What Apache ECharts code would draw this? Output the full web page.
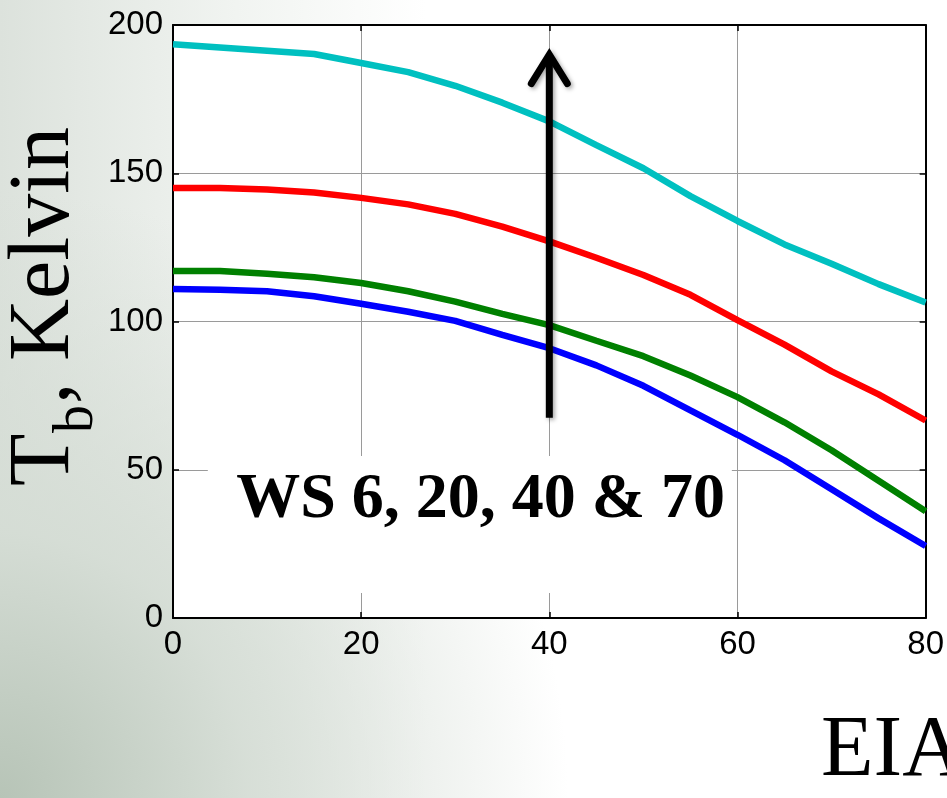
<!DOCTYPE html>
<html><head><meta charset="utf-8">
<script src="https://cdn.jsdelivr.net/npm/echarts@6/dist/echarts.min.js"></script>
<style>
html,body{margin:0;padding:0;width:947px;height:798px;overflow:hidden;}
body{background:
  radial-gradient(ellipse 75% 95% at 0% 100%, rgba(183,196,183,1) 0%, rgba(212,220,212,0.9) 35%, rgba(255,255,255,0) 80%),
  linear-gradient(to right, #dce2dc 0%, #f1f4f1 25%, #ffffff 45%);}
#c{width:947px;height:798px;}
</style></head><body><div id="c"></div>
<script>
const xValues = [0,5,10,15,20,25,30,35,40,45,50,55,60,65,70,75,80];
const ws6  = [111,110.7,110.2,108.5,106,103.3,100.2,95.5,91,85.2,78.3,70,61.8,53.2,43.4,33.6,24.3];
const ws20 = [117,117,116.1,114.9,113,110.2,106.7,102.6,98.8,93.5,88.3,81.8,74.5,66,56.6,46.3,36];
const ws40 = [145,145,144.5,143.5,141.7,139.5,136.3,132,127,121.5,115.7,109,100.5,92.2,83.2,75.4,66.6];
const ws70 = [193.5,192.4,191.3,190.2,187.2,184.1,179.5,173.8,167.5,159.5,151.7,142.3,133.9,126,119.5,112.6,106.4];
const seriesNames = ['WS 6','WS 20','WS 40','WS 70'];
const seriesColors = ['#0000ff','#008000','#ff0000','#00c0c0'];
const annotationText = 'WS 6, 20, 40 & 70';
const arrowFrom = [40, 67.5];
const arrowTo = [40, 190];
const boxCorners = [[3.7, 54.6],[59.4, 8.4]];
const textAnchor = [32.7, 32.4];

const chart = echarts.init(document.getElementById('c'), null, {renderer:'canvas'});
const pair = arr => xValues.map((x,i)=>[x, arr[i]]);
const allSeries = [ws6, ws20, ws40, ws70];

const axisLabelStyle = {fontFamily:'Liberation Sans', fontSize:33, color:'#000'};
chart.setOption({
  backgroundColor:'transparent',
  animation:false,
  grid:{left:173, right:20, top:25, bottom:180, show:true, backgroundColor:'#fff', borderWidth:0},
  xAxis:[
    {type:'value', min:0, max:80, interval:20, position:'bottom',
     axisLine:{show:true, onZero:false, lineStyle:{color:'#000', width:2}},
     axisTick:{show:true, inside:true, length:6, lineStyle:{color:'#000', width:1.5}},
     axisLabel:Object.assign({margin:10}, axisLabelStyle),
     splitLine:{show:true, lineStyle:{color:'#9a9a9a', width:1}}},
    {type:'value', min:0, max:80, interval:20, position:'top',
     axisLine:{show:true, onZero:false, lineStyle:{color:'#000', width:2}},
     axisTick:{show:true, inside:true, length:6, lineStyle:{color:'#000', width:1.5}},
     axisLabel:{show:false}, splitLine:{show:false}}
  ],
  yAxis:[
    {type:'value', min:0, max:200, interval:50, position:'left',
     axisLine:{show:true, onZero:false, lineStyle:{color:'#000', width:2}},
     axisTick:{show:true, inside:true, length:6, lineStyle:{color:'#000', width:1.5}},
     axisLabel:Object.assign({margin:10}, axisLabelStyle),
     splitLine:{show:true, lineStyle:{color:'#9a9a9a', width:1}}},
    {type:'value', min:0, max:200, interval:50, position:'right',
     axisLine:{show:true, onZero:false, lineStyle:{color:'#000', width:2}},
     axisTick:{show:true, inside:true, length:6, lineStyle:{color:'#000', width:1.5}},
     axisLabel:{show:false}, splitLine:{show:false}}
  ],
  series: allSeries.map((arr,i)=>({
    name:seriesNames[i], type:'line', data:pair(arr), showSymbol:false, symbol:'none',
    lineStyle:{color:seriesColors[i], width:6.5}, z:3
  }))
});

// serif baseline offset when using verticalAlign 'middle'
const SERIF_MID = 0.3375;
function drawOverlay(){
  const p = v => chart.convertToPixel({gridIndex:0}, v);
  const a0 = p(arrowFrom), a1 = p(arrowTo);
  const b0 = p(boxCorners[0]), b1 = p(boxCorners[1]);
  const t = p(textAnchor);
  const shadow = {shadowBlur:4, shadowColor:'rgba(0,0,0,0.35)', shadowOffsetX:2, shadowOffsetY:2};
  chart.setOption({graphic:[
    {type:'rect', shape:{x:b0[0], y:b0[1], width:b1[0]-b0[0], height:b1[1]-b0[1]},
     style:{fill:'#fff'}, z:1, silent:true},
    {type:'text', x:t[0], y:t[1]-SERIF_MID*64, z:10, silent:true,
     style:{text:annotationText, font:'bold 64px "Liberation Serif"', fill:'#000', align:'center', verticalAlign:'middle'}},
    {type:'line', shape:{x1:a0[0], y1:a0[1], x2:a1[0], y2:a1[1]+3}, z:10, silent:true,
     style:Object.assign({stroke:'#000', lineWidth:7, lineCap:'butt'}, shadow)},
    {type:'polyline', shape:{points:[[a1[0]-18, a1[1]+29],[a1[0], a1[1]],[a1[0]+18, a1[1]+29]]}, z:10, silent:true,
     style:Object.assign({stroke:'#000', lineWidth:7, lineCap:'round', lineJoin:'miter', fill:null}, shadow)},
    {type:'group', x:74, y:486, rotation:Math.PI/2, silent:true, children:[
      {type:'text', x:0, y:-SERIF_MID*86, style:{text:'T', font:'86px "Liberation Serif"', fill:'#000', verticalAlign:'middle', align:'left'}},
      {type:'text', x:53, y:22-SERIF_MID*56, style:{text:'b', font:'56px "Liberation Serif"', fill:'#000', verticalAlign:'middle', align:'left'}},
      {type:'text', x:82, y:-SERIF_MID*86, style:{text:', Kelvin', font:'86px "Liberation Serif"', fill:'#000', verticalAlign:'middle', align:'left'}}
    ]},
    {type:'text', x:821, y:781-SERIF_MID*86, silent:true,
     style:{text:'EIA', font:'86px "Liberation Serif"', fill:'#000', verticalAlign:'middle', align:'left'}}
  ]});
}
drawOverlay();
</script>
</body></html>
